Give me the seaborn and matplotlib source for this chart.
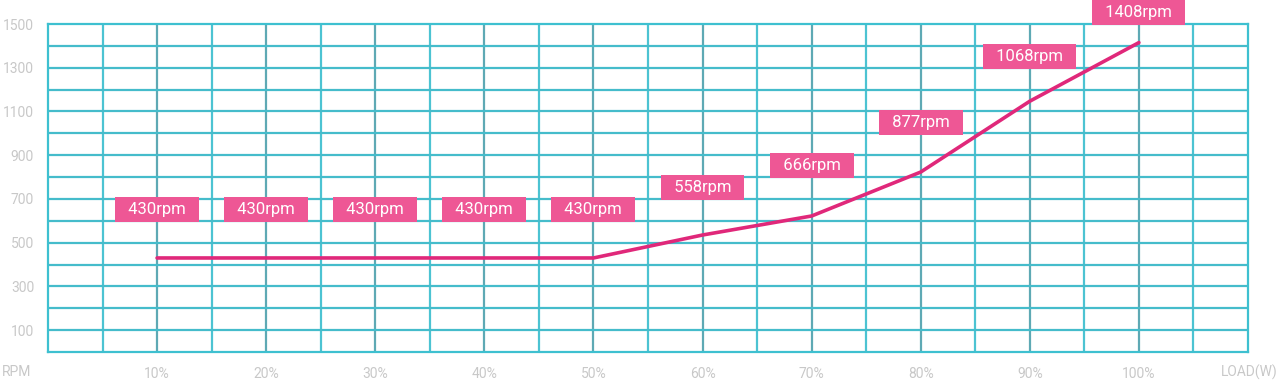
import numpy as np
import pandas as pd
import seaborn as sns
import matplotlib.pyplot as plt

# load (%) vs fan speed (rpm)
load = [10, 20, 30, 40, 50, 60, 70, 80, 90, 100]
rpm_line = [430, 430, 430, 430, 430, 535, 622, 823, 1147, 1415]
rpm_label = [430, 430, 430, 430, 430, 558, 666, 877, 1068, 1408]
y_ticks = [100, 300, 500, 700, 900, 1100, 1300, 1500]

df = pd.DataFrame({'load': load, 'rpm': rpm_line})

sns.set_style('white')
plt.rcParams['font.family'] = ['Roboto', 'DejaVu Sans']

fig = plt.figure(figsize=(12.8, 3.82), dpi=100)
ax = fig.add_axes([48 / 1280, 30 / 382, 1200 / 1280, 328 / 382])

# grid
for x in np.arange(5, 110, 5):
    c = '#5ea9b4' if x % 10 == 0 else '#4cc3d2'
    ax.axvline(x, color=c, lw=1.6, zorder=1)
for y in np.arange(100, 1500, 100):
    ax.axhline(y, color='#45bccb', lw=1.6, zorder=1)
for s in ax.spines.values():
    s.set_color('#3ec0d0')
    s.set_linewidth(1.6)

sns.lineplot(data=df, x='load', y='rpm', color='#e0287a', lw=2.6, ax=ax, zorder=3)

offsets = [48, 48, 48, 48, 48, 48, 50, 50, 45, 30]
for x, y, lab, off in zip(load, rpm_line, rpm_label, offsets):
    ax.annotate(f'  {lab}rpm  ', (x, y), xytext=(0, off), textcoords='offset pixels',
                ha='center', va='center', color='white', fontsize=12,
                annotation_clip=False, zorder=5,
                bbox=dict(boxstyle='square,pad=0.3', fc='#ee5795', ec='none'))

ax.set_xlim(0, 110)
ax.set_ylim(0, 1500)
ax.set_xticks(load)
ax.set_xticklabels([f'{v}%' for v in load])
ax.set_yticks(y_ticks)
ax.set_yticklabels([str(v) for v in y_ticks])
ax.tick_params(axis='both', length=0, labelsize=10, labelcolor='#c8c8c8')
ax.tick_params(axis='x', pad=11)
ax.tick_params(axis='y', pad=10)
ax.set_xlabel('')
ax.set_ylabel('')

fig.text(2 / 1280, 10 / 382, 'RPM', color='#c8c8c8', fontsize=10, ha='left', va='center')
fig.text(1278 / 1280, 10 / 382, 'LOAD(W)', color='#c8c8c8', fontsize=10, ha='right', va='center')

fig.savefig('out.png', dpi=100)
